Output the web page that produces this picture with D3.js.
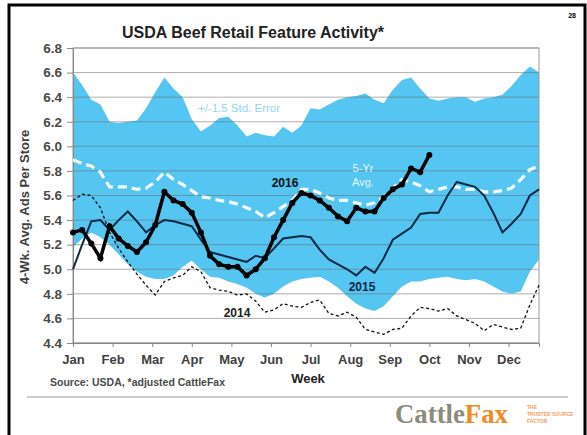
<!DOCTYPE html>
<html>
<head>
<meta charset="utf-8">
<script src="https://cdn.jsdelivr.net/npm/d3@7"></script>
<style>
  body { margin: 0; background: #fff; }
  svg { display: block; font-family: "Liberation Sans", Arial, sans-serif; }
</style>
</head>
<body>
<svg id="chart" width="587" height="435"></svg>
<script>
// weekly values, week 1..52
let months = ["Jan", "Feb", "Mar", "Apr", "May", "Jun", "Jul", "Aug", "Sep", "Oct", "Nov", "Dec"];
let yTicks = [4.4, 4.6, 4.8, 5.0, 5.2, 5.4, 5.6, 5.8, 6.0, 6.2, 6.4, 6.6, 6.8];

let bandUpper = [6.60,6.50,6.38,6.34,6.20,6.19,6.20,6.21,6.31,6.44,6.56,6.47,6.40,6.22,6.12,6.17,6.23,6.24,6.17,6.08,
  6.11,6.09,6.08,6.16,6.11,6.17,6.31,6.30,6.34,6.38,6.40,6.41,6.43,6.38,6.35,6.46,6.54,6.56,6.47,6.39,
  6.37,6.39,6.40,6.40,6.36,6.39,6.40,6.42,6.49,6.58,6.65,6.60];
let bandLower = [5.18,5.25,5.30,5.26,5.20,5.12,5.04,4.98,4.94,4.92,4.92,4.95,5.02,5.07,5.00,4.94,4.93,4.90,4.88,4.85,
  4.80,4.77,4.80,4.86,4.90,4.92,4.93,4.94,4.90,4.85,4.78,4.72,4.68,4.66,4.70,4.78,4.86,4.90,4.90,4.92,
  4.93,4.94,4.92,4.91,4.92,4.90,4.86,4.82,4.80,4.82,4.98,5.08];
let avg5 = [5.89,5.86,5.84,5.79,5.67,5.67,5.67,5.65,5.66,5.71,5.79,5.73,5.69,5.64,5.59,5.58,5.56,5.55,5.53,5.50,
  5.47,5.42,5.46,5.51,5.56,5.65,5.65,5.62,5.58,5.56,5.56,5.54,5.52,5.54,5.59,5.66,5.73,5.71,5.68,5.63,
  5.65,5.67,5.67,5.65,5.65,5.63,5.63,5.64,5.66,5.73,5.81,5.84];
let s2014 = [5.56,5.61,5.60,5.50,5.30,5.17,5.06,4.96,4.87,4.79,4.90,4.93,4.95,5.02,4.98,4.85,4.83,4.82,4.79,4.80,
  4.74,4.65,4.67,4.72,4.70,4.69,4.73,4.75,4.64,4.62,4.65,4.61,4.51,4.49,4.47,4.51,4.52,4.62,4.69,4.68,
  4.66,4.68,4.62,4.59,4.56,4.50,4.55,4.53,4.51,4.52,4.71,4.87];
let s2015 = [5.00,5.20,5.39,5.40,5.32,5.40,5.47,5.39,5.30,5.36,5.40,5.39,5.37,5.35,5.24,5.14,5.12,5.10,5.08,5.06,
  5.11,5.09,5.17,5.25,5.26,5.27,5.26,5.16,5.08,5.04,5.00,4.95,5.02,4.97,5.09,5.24,5.29,5.34,5.45,5.46,
  5.46,5.60,5.71,5.69,5.67,5.60,5.46,5.30,5.37,5.45,5.60,5.65];
let s2016 = [5.30,5.32,5.21,5.09,5.35,5.25,5.19,5.14,5.22,5.36,5.63,5.56,5.53,5.46,5.30,5.11,5.04,5.02,5.02,4.95,
  5.00,5.09,5.26,5.40,5.54,5.62,5.60,5.56,5.50,5.43,5.39,5.50,5.47,5.47,5.58,5.65,5.69,5.82,5.79,5.93];

let svg = d3.select("#chart");

// slide frame
svg.append("rect").attr("x", 9).attr("y", 5).attr("width", 576).attr("height", 440)
  .attr("fill", "none").attr("stroke", "#000").attr("stroke-width", 3);
svg.append("text").attr("x", 576).attr("y", 18).attr("text-anchor", "end")
  .attr("font-size", 7).attr("font-weight", "bold").text("28");

// scales
let x = d3.scaleLinear().domain([1, 52]).range([73, 539]);
let y = d3.scaleLinear().domain([4.4, 6.8]).range([343, 48]);
let monthWeeks = months.map((m, i) => 1 + i * 52 / 12);

// +/- 1.5 std error band
let band = d3.area()
  .x((d, i) => x(i + 1))
  .y0((d, i) => y(bandLower[i]))
  .y1(d => y(d));
svg.append("path").datum(bandUpper).attr("d", band).attr("fill", "#55c5f2");

// gridlines
svg.append("g").selectAll("line")
  .data(yTicks)
  .enter()
  .append("line")
  .attr("x1", x(1)).attr("x2", x(52))
  .attr("y1", d => y(d)).attr("y2", d => y(d))
  .attr("stroke", "#6e6e6e").attr("stroke-opacity", 0.55).attr("stroke-width", 1);

// plot border
svg.append("rect").attr("x", x(1)).attr("y", y(6.8))
  .attr("width", x(52) - x(1)).attr("height", y(4.4) - y(6.8))
  .attr("fill", "none").attr("stroke", "#999").attr("stroke-width", 1);

// axes
let yAxis = svg.append("g").attr("transform", "translate(" + x(1) + ",0)")
  .call(d3.axisLeft(y).tickValues(yTicks).tickFormat(d3.format(".1f")).tickSize(6).tickPadding(5));
let xAxis = svg.append("g").attr("transform", "translate(0," + y(4.4) + ")")
  .call(d3.axisBottom(x).tickValues(monthWeeks).tickFormat((d, i) => months[i]).tickSize(4).tickPadding(8));
[yAxis, xAxis].forEach(function(g) {
  g.select(".domain").attr("stroke", "#888");
  g.selectAll(".tick line").attr("stroke", "#888");
  g.selectAll("text").attr("font-size", 13).attr("font-weight", "bold").attr("fill", "#404040")
    .attr("font-family", "Liberation Sans, Arial, sans-serif");
});
yAxis.selectAll("text").attr("font-size", 13.5).attr("fill", "#4a4a4a");

// lines
let line = d3.line().x((d, i) => x(i + 1)).y(d => y(d));

svg.append("path").datum(avg5).attr("d", line)
  .attr("fill", "none").attr("stroke", "#f2faff").attr("stroke-width", 3.2)
  .attr("stroke-dasharray", "9,5");

svg.append("path").datum(s2014).attr("d", line)
  .attr("fill", "none").attr("stroke", "#111").attr("stroke-width", 1.3)
  .attr("stroke-dasharray", "3,2.5");

svg.append("path").datum(s2015).attr("d", line)
  .attr("fill", "none").attr("stroke", "#0c2a44").attr("stroke-width", 2);

svg.append("path").datum(s2016).attr("d", line)
  .attr("fill", "none").attr("stroke", "#000").attr("stroke-width", 3.5);
svg.append("g").selectAll("circle")
  .data(s2016)
  .enter()
  .append("circle")
  .attr("cx", (d, i) => x(i + 1))
  .attr("cy", d => y(d))
  .attr("r", 3)
  .attr("fill", "#000");

// series labels
svg.append("text").attr("x", 239).attr("y", 112).attr("font-size", 11.5)
  .attr("fill", "#8fd6f6").attr("text-anchor", "middle").text("+/-1.5 Std. Error");
svg.append("text").attr("x", 363).attr("y", 172).attr("font-size", 11)
  .attr("fill", "#e6f6fd").attr("text-anchor", "middle").text("5-Yr");
svg.append("text").attr("x", 363).attr("y", 186).attr("font-size", 11)
  .attr("fill", "#e6f6fd").attr("text-anchor", "middle").text("Avg.");
svg.append("text").attr("x", 285).attr("y", 187).attr("font-size", 12).attr("font-weight", "bold")
  .attr("fill", "#111").attr("text-anchor", "middle").text("2016");
svg.append("text").attr("x", 362).attr("y", 291).attr("font-size", 12).attr("font-weight", "bold")
  .attr("fill", "#0c2a44").attr("text-anchor", "middle").text("2015");
svg.append("text").attr("x", 237).attr("y", 317).attr("font-size", 12).attr("font-weight", "bold")
  .attr("fill", "#222").attr("text-anchor", "middle").text("2014");

// titles
svg.append("text").attr("x", 253).attr("y", 38).attr("text-anchor", "middle")
  .attr("font-size", 16).attr("font-weight", "bold").attr("fill", "#222")
  .text("USDA Beef Retail Feature Activity*");
svg.append("text").attr("transform", "translate(29,207) rotate(-90)").attr("text-anchor", "middle")
  .attr("font-size", 13).attr("font-weight", "bold").attr("fill", "#404040")
  .text("4-Wk. Avg. Ads Per Store");
svg.append("text").attr("x", 308).attr("y", 383).attr("text-anchor", "middle")
  .attr("font-size", 13).attr("font-weight", "bold").attr("fill", "#222").text("Week");
svg.append("text").attr("x", 50).attr("y", 386)
  .attr("font-size", 10.5).attr("font-weight", "bold").attr("fill", "#4a4a4a")
  .text("Source: USDA, *adjusted CattleFax");

// footer rule and logo
svg.append("line").attr("x1", 27).attr("x2", 568).attr("y1", 397).attr("y2", 397)
  .attr("stroke", "#999").attr("stroke-width", 1.2);
let logo = svg.append("text").attr("x", 395).attr("y", 423)
  .attr("font-family", "Liberation Serif, serif").attr("font-size", 27).attr("font-weight", "bold")
  .attr("textLength", 113).attr("lengthAdjust", "spacingAndGlyphs");
logo.append("tspan").attr("fill", "#8c8c7c").text("Cattle");
logo.append("tspan").attr("fill", "#f08a24").text("Fax");
["THE", "TRUSTED SOURCE", "FACTOR"].forEach(function(t, i) {
  svg.append("text").attr("x", 527).attr("y", 409 + i * 7).attr("font-size", 5)
    .attr("font-weight", "bold").attr("fill", "#f0a060").text(t);
});
</script>
</body>
</html>
